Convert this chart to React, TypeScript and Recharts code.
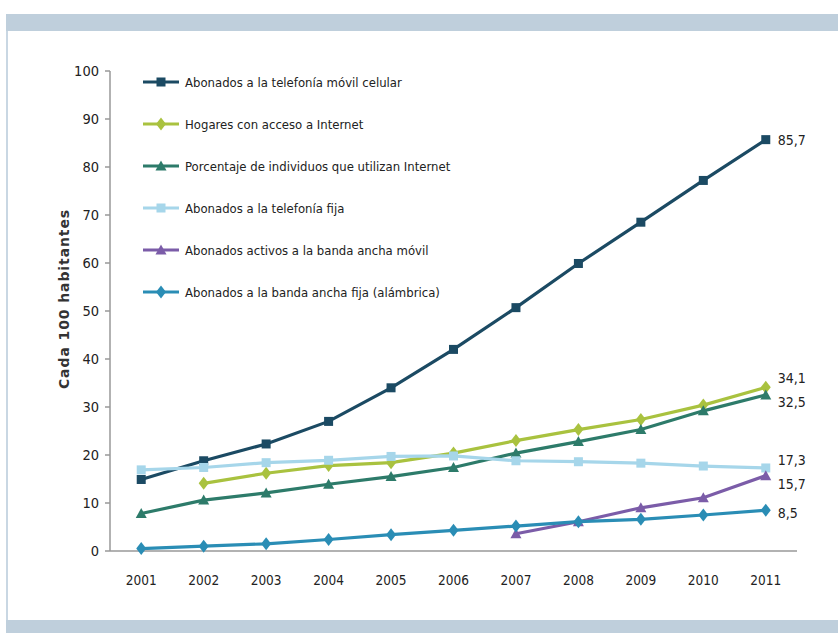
import React from 'react';
import { LineChart, Line, XAxis, YAxis, Legend, LabelList } from 'recharts';

const years = [2001, 2002, 2003, 2004, 2005, 2006, 2007, 2008, 2009, 2010, 2011];
const movil = [14.9, 18.8, 22.3, 27.0, 34.0, 42.0, 50.7, 59.9, 68.5, 77.2, 85.7];
const hogares = [null, 14.1, 16.2, 17.8, 18.4, 20.4, 23.0, 25.3, 27.4, 30.4, 34.1];
const individuos = [7.8, 10.6, 12.1, 13.9, 15.5, 17.4, 20.4, 22.8, 25.3, 29.2, 32.5];
const fija = [16.9, 17.4, 18.4, 18.9, 19.7, 19.8, 18.8, 18.6, 18.3, 17.7, 17.3];
const bandaMovil = [null, null, null, null, null, null, 3.6, 6.1, 9.0, 11.1, 15.7];
const bandaFija = [0.5, 1.0, 1.5, 2.4, 3.4, 4.3, 5.2, 6.1, 6.6, 7.5, 8.5];
const yTicks = [0, 10, 20, 30, 40, 50, 60, 70, 80, 90, 100];
const boundaryTicks = [2000.5, 2001.5, 2002.5, 2003.5, 2004.5, 2005.5, 2006.5, 2007.5, 2008.5, 2009.5, 2010.5, 2011.5];

const series = [
  { key: 'movil', name: 'Abonados a la telefonía móvil celular', values: movil, color: '#1b4a63', shape: 'square', end: '85,7', dy: 0 },
  { key: 'hogares', name: 'Hogares con acceso a Internet', values: hogares, color: '#a9c23f', shape: 'diamond', end: '34,1', dy: -9 },
  { key: 'individuos', name: 'Porcentaje de individuos que utilizan Internet', values: individuos, color: '#2d7b6a', shape: 'triangle', end: '32,5', dy: 7 },
  { key: 'fija', name: 'Abonados a la telefonía fija', values: fija, color: '#a6d6ea', shape: 'square', end: '17,3', dy: -8 },
  { key: 'bandaMovil', name: 'Abonados activos a la banda ancha móvil', values: bandaMovil, color: '#7b5ca8', shape: 'triangle', end: '15,7', dy: 8 },
  { key: 'bandaFija', name: 'Abonados a la banda ancha fija (alámbrica)', values: bandaFija, color: '#2a8db5', shape: 'diamond', end: '8,5', dy: 3 },
];

const data = years.map((y, i) => {
  const row: any = { year: y };
  series.forEach((s) => { row[s.key] = s.values[i]; });
  return row;
});

const NARROW = '"Liberation Sans Narrow", "DejaVu Sans Condensed", "Arial Narrow", sans-serif';

function Marker({ cx, cy, shape, color }: any) {
  if (cx == null || cy == null) return null;
  if (shape === 'square') {
    return <rect x={cx - 4.5} y={cy - 4.5} width={9} height={9} fill={color} />;
  }
  if (shape === 'triangle') {
    return <polygon points={`${cx},${cy - 5.5} ${cx + 5.5},${cy + 4.5} ${cx - 5.5},${cy + 4.5}`} fill={color} />;
  }
  return <polygon points={`${cx},${cy - 6.5} ${cx + 5},${cy} ${cx},${cy + 6.5} ${cx - 5},${cy}`} fill={color} />;
}

function LegendContent() {
  return (
    <div style={{ fontFamily: NARROW, fontSize: 13, color: '#222' }}>
      {series.map((s) => (
        <div key={s.key} style={{ display: 'flex', alignItems: 'center', height: 42 }}>
          <svg width={40} height={14} style={{ marginRight: 4 }}>
            <line x1={2} y1={7} x2={38} y2={7} stroke={s.color} strokeWidth={3} />
            <Marker cx={20} cy={7} shape={s.shape} color={s.color} />
          </svg>
          <span>{s.name}</span>
        </div>
      ))}
    </div>
  );
}

function XTick({ x, y, payload }: any) {
  return (
    <text x={x} y={y + 26} textAnchor="middle" fontFamily={NARROW} fontSize={13.5} fill="#222">
      {payload.value}
    </text>
  );
}

function YTick({ x, y, payload }: any) {
  return (
    <text x={x - 4} y={y} dy={5} textAnchor="end" fontFamily={NARROW} fontSize={14.5} fill="#222">
      {payload.value}
    </text>
  );
}

function YLabel({ viewBox }: any) {
  const cx = viewBox.x + 4;
  const cy = viewBox.y + viewBox.height / 2 - 12;
  return (
    <text x={cx} y={cy} transform={`rotate(-90 ${cx} ${cy})`} textAnchor="middle" dominantBaseline="central"
      fontFamily="DejaVu Sans, sans-serif" fontSize={14} fontWeight="bold" fill="#333" letterSpacing={0.9}>
      Cada 100 habitantes
    </text>
  );
}

export default function App() {
  return (
    <div style={{ position: 'absolute', left: 0, top: 0, width: 838, height: 633, background: '#fff', overflow: 'hidden' }}>
      <div style={{ position: 'absolute', left: 6, top: 14, right: 0, height: 17, background: '#bfcfdc' }} />
      <div style={{ position: 'absolute', left: 6, top: 31, width: 2, bottom: 0, background: '#c9d7e3' }} />
      <div style={{ position: 'absolute', left: 6, top: 620, right: 0, bottom: 0, background: '#bfcfdc' }} />
      <div style={{ position: 'absolute', left: 0, top: 0 }}>
        <LineChart width={838} height={633} data={data} margin={{ top: 71, right: 41, bottom: 42, left: 60 }}>
          <XAxis xAxisId="marks" dataKey="year" type="number" domain={[2000.5, 2011.5]} ticks={boundaryTicks}
            height={0} tick={false} axisLine={false} tickLine={{ stroke: '#999', strokeWidth: 1.5 }} tickSize={7} allowDataOverflow />
          <XAxis xAxisId="main" dataKey="year" type="number" domain={[2000.5, 2011.5]} ticks={years}
            height={40} tick={<XTick />} tickLine={false} axisLine={{ stroke: '#999', strokeWidth: 1.5 }} allowDataOverflow />
          <YAxis width={50} domain={[0, 100]} ticks={yTicks} tick={<YTick />} tickSize={5}
            tickLine={{ stroke: '#999', strokeWidth: 1.5 }} axisLine={{ stroke: '#999', strokeWidth: 1.5 }}
            label={<YLabel />} />
          <Legend layout="vertical" align="center" verticalAlign="middle" content={<LegendContent />}
            wrapperStyle={{ position: 'absolute', left: 141, top: 61, width: 360 }} />
          {series.map((s) => (
            <Line key={s.key} xAxisId="main" dataKey={s.key} name={s.name} stroke={s.color} strokeWidth={3.2}
              dot={(p: any) => <Marker key={`${s.key}-${p.index}`} cx={p.cx} cy={p.cy} shape={s.shape} color={s.color} />}
              activeDot={false} isAnimationActive={false} connectNulls={false}>
              <LabelList dataKey={s.key} content={(p: any) => (p.index === years.length - 1 ? (
                <text x={p.x + 12} y={p.y + s.dy} dominantBaseline="central" fontFamily={NARROW} fontSize={14} fill="#222">{s.end}</text>
              ) : null)} />
            </Line>
          ))}
        </LineChart>
      </div>
    </div>
  );
}
